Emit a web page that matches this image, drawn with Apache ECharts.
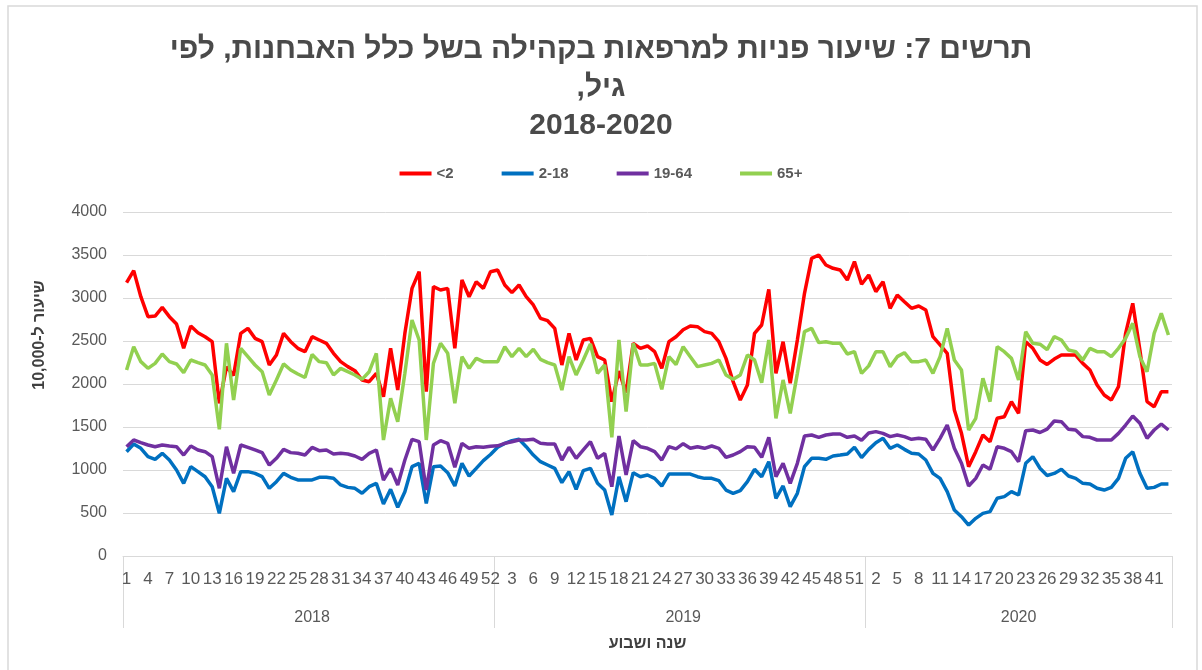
<!DOCTYPE html>
<html>
<head>
<meta charset="utf-8">
<script src="https://cdn.jsdelivr.net/npm/echarts@6/dist/echarts.min.js"></script>
<style>
html, body { margin: 0; padding: 0; background: #fff; }
#chart { width: 1202px; height: 670px; }
</style>
</head>
<body>
<div id="chart"></div>
<script>
// כיווניות: עטיפת טקסט עברי בהטבעה מימין לשמאל
var RLE = '\u202B', PDF = '\u202C';
var FONT = "'Liberation Sans', Arial, sans-serif";

var years = ['2018', '2019', '2020'];
var weeksPerYear = [52, 52, 43];
var seriesNames = ['<2', '2-18', '19-64', '65+'];
var seriesColors = ['#ff0000', '#0070c0', '#7030a0', '#92d050'];

// <2
var red2018 = [3178, 3318, 3015, 2783, 2790, 2891, 2783, 2698, 2415, 2674,
  2597, 2550, 2492, 1775, 2200, 2100, 2589, 2647, 2531, 2492,
  2221, 2337, 2589, 2492, 2415, 2376, 2550, 2512, 2473, 2357,
  2260, 2202, 2155, 2047, 2027, 2124, 1853, 2415, 1930, 2589,
  3112, 3306, 1911, 3132, 3093, 3112, 2415, 3209, 3015, 3190,
  3112, 3306];
var red2019 = [3326, 3151, 3062, 3151, 3015, 2919, 2764, 2736, 2647, 2221,
  2589, 2279, 2512, 2531, 2318, 2279, 1795, 2150, 1900, 2473,
  2415, 2442, 2376, 2182, 2492, 2550, 2630, 2674, 2667, 2609,
  2589, 2492, 2298, 2027, 1814, 1988, 2589, 2686, 3101, 2124,
  2492, 2008, 2512, 3054, 3461, 3500, 3384, 3345, 3326, 3209,
  3423, 3160];
var red2020 = [3268, 3074, 3190, 2880, 3035, 2957, 2880, 2907, 2860, 2550,
  2454, 2357, 1698, 1426, 1039, 1213, 1407, 1329, 1601, 1620,
  1795, 1659, 2492, 2415, 2280, 2227, 2290, 2337, 2337, 2337,
  2240, 2163, 1988, 1872, 1814, 1969, 2589, 2938, 2395, 1795,
  1736, 1911, 1911];

// 2-18
var blue2018 = [1213, 1302, 1252, 1155, 1124, 1194, 1116, 1000, 845, 1039,
  981, 922, 806, 496, 903, 748, 981, 981, 961, 922,
  787, 864, 961, 915, 884, 884, 884, 915, 915, 903,
  826, 798, 787, 729, 806, 845, 605, 775, 566, 748,
  1039, 1078, 612, 1039, 1047, 969, 814, 1078, 930, 1019,
  1109, 1180];
var blue2019 = [1265, 1310, 1341, 1357, 1271, 1174, 1097, 1058, 1019, 853,
  981, 775, 992, 1019, 845, 767, 477, 922, 632, 969,
  922, 942, 903, 814, 953, 953, 953, 953, 922, 903,
  903, 876, 767, 729, 760, 864, 1008, 922, 1097, 671,
  814, 574, 729, 1039, 1136, 1136, 1124, 1163, 1174, 1186,
  1264, 1145];
var blue2020 = [1240, 1318, 1368, 1252, 1291, 1240, 1194, 1186, 1116, 961,
  903, 748, 535, 457, 360, 438, 496, 516, 671, 690,
  748, 709, 1078, 1155, 1020, 936, 960, 1008, 930, 903,
  845, 837, 787, 767, 798, 903, 1136, 1213, 961, 787,
  798, 837, 837];

// 19-64
var purple2018 = [1271, 1349, 1318, 1291, 1271, 1291, 1279, 1271, 1174, 1279,
  1233, 1213, 1155, 787, 1271, 961, 1291, 1264, 1233, 1202,
  1058, 1136, 1240, 1202, 1194, 1174, 1262, 1225, 1233, 1186,
  1194, 1186, 1163, 1124, 1194, 1233, 884, 1019, 826, 1116,
  1357, 1329, 767, 1291, 1341, 1310, 1031, 1310, 1252, 1271,
  1264, 1275];
var purple2019 = [1281, 1310, 1329, 1349, 1349, 1357, 1310, 1302, 1302, 1116,
  1264, 1136, 1233, 1329, 1136, 1194, 806, 1395, 942, 1341,
  1271, 1252, 1213, 1116, 1271, 1246, 1306, 1252, 1271, 1252,
  1279, 1252, 1147, 1174, 1213, 1271, 1264, 1147, 1380, 922,
  1078, 845, 1078, 1395, 1407, 1380, 1407, 1419, 1419, 1380,
  1395, 1345];
var purple2020 = [1430, 1446, 1426, 1388, 1407, 1388, 1357, 1368, 1357, 1233,
  1368, 1523, 1252, 1078, 814, 903, 1058, 1008, 1271, 1252,
  1213, 1097, 1457, 1465, 1436, 1475, 1570, 1562, 1473, 1465,
  1388, 1380, 1349, 1349, 1349, 1426, 1523, 1628, 1543, 1368,
  1465, 1535, 1465];

// 65+
var green2018 = [2163, 2434, 2260, 2182, 2240, 2349, 2260, 2233, 2132, 2279,
  2248, 2221, 2105, 1473, 2473, 1814, 2415, 2318, 2221, 2143,
  1872, 2047, 2233, 2163, 2116, 2076, 2343, 2260, 2248, 2105,
  2182, 2143, 2105, 2054, 2143, 2357, 1349, 1833, 1562, 2124,
  2744, 2512, 1349, 2240, 2473, 2357, 1775, 2318, 2182, 2298,
  2260, 2260];
var green2019 = [2260, 2434, 2318, 2415, 2318, 2403, 2287, 2248, 2221, 1930,
  2318, 2105, 2279, 2465, 2124, 2221, 1380, 2512, 1678, 2473,
  2221, 2221, 2240, 1938, 2318, 2227, 2434, 2318, 2202, 2221,
  2240, 2279, 2105, 2054, 2105, 2337, 2279, 2016, 2512, 1601,
  2047, 1659, 2124, 2609, 2647, 2481, 2492, 2473, 2473, 2349,
  2376, 2124];
var green2020 = [2211, 2376, 2376, 2202, 2318, 2364, 2260, 2260, 2279, 2124,
  2318, 2647, 2279, 2163, 1465, 1601, 2066, 1795, 2434, 2376,
  2298, 2047, 2608, 2473, 2463, 2399, 2550, 2512, 2395, 2376,
  2279, 2415, 2376, 2376, 2318, 2415, 2531, 2705, 2318, 2143,
  2589, 2822, 2570];

var seriesData = [
  red2018.concat(red2019, red2020),
  blue2018.concat(blue2019, blue2020),
  purple2018.concat(purple2019, purple2020),
  green2018.concat(green2019, green2020)
];

// קטגוריות: שבוע בתוך שנה, ותווית שנה באמצע כל שנה
var weeks = [];
var yearLabels = [];
var yearStarts = [];
years.forEach(function (y, k) {
  yearStarts.push(weeks.length);
  var mid = Math.floor(weeksPerYear[k] / 2) + 1;
  for (var w = 1; w <= weeksPerYear[k]; w++) {
    weeks.push(String(w));
    yearLabels.push(w === mid ? y : '');
  }
});

var chart = echarts.init(document.getElementById('chart'));

var option = {
  backgroundColor: '#fff',
  animation: false,
  textStyle: { fontFamily: FONT },
  title: {
    text: RLE + 'תרשים 7: שיעור פניות למרפאות בקהילה בשל כלל האבחנות, לפי' + PDF +
      '\n' + RLE + 'גיל,' + PDF + '\n2018-2020',
    left: 'center',
    top: 26,
    textStyle: {
      fontFamily: FONT,
      fontSize: 30,
      fontWeight: 'bold',
      color: '#4a4a4a',
      lineHeight: 38
    }
  },
  legend: {
    top: 161,
    left: 'center',
    icon: 'rect',
    itemWidth: 32,
    itemHeight: 4,
    itemGap: 48,
    data: seriesNames,
    textStyle: { fontFamily: FONT, fontSize: 15, fontWeight: 'bold', color: '#595959' }
  },
  grid: { left: 123, right: 30, top: 212, bottom: 114 },
  xAxis: [{
    type: 'category',
    data: weeks,
    boundaryGap: true,
    axisLine: { lineStyle: { color: '#d9d9d9' } },
    axisTick: { show: false },
    axisLabel: { interval: 2, color: '#595959', fontSize: 17, margin: 15, fontFamily: FONT },
    name: RLE + 'שנה ושבוע' + PDF,
    nameLocation: 'middle',
    nameGap: 80,
    nameTextStyle: { fontFamily: FONT, fontSize: 16, fontWeight: 'bold', color: '#404040' }
  }, {
    type: 'category',
    data: yearLabels,
    position: 'bottom',
    boundaryGap: true,
    axisLine: { show: false },
    axisTick: {
      show: true,
      length: 72,
      interval: function (i) { return yearStarts.indexOf(i) >= 0; },
      lineStyle: { color: '#d9d9d9' }
    },
    axisLabel: { interval: 0, color: '#595959', fontSize: 16, margin: 54, fontFamily: FONT }
  }],
  yAxis: {
    type: 'value',
    min: 0,
    max: 4000,
    interval: 500,
    axisLine: { show: false },
    axisTick: { show: false },
    axisLabel: {
      color: '#595959', fontSize: 16, margin: 16, fontFamily: FONT,
      formatter: function (v) { return String(v); }
    },
    splitLine: { lineStyle: { color: '#d9d9d9', width: 1 } }
  },
  graphic: [{
    type: 'rect',
    shape: { x: 8, y: 6, width: 1189, height: 700 },
    style: { fill: 'none', stroke: '#d9d9d9', lineWidth: 1.5 },
    silent: true
  }, {
    type: 'text',
    x: 40,
    y: 335,
    rotation: Math.PI / 2,
    style: {
      text: RLE + 'שיעור ל-10,000' + PDF,
      font: 'bold 16px ' + FONT,
      fill: '#404040',
      align: 'center',
      verticalAlign: 'middle'
    }
  }],
  series: seriesNames.map(function (name, k) {
    return {
      name: name,
      type: 'line',
      data: seriesData[k],
      showSymbol: false,
      symbol: 'none',
      color: seriesColors[k],
      lineStyle: { width: 3.5, color: seriesColors[k] }
    };
  })
};

chart.setOption(option);
</script>
</body>
</html>
